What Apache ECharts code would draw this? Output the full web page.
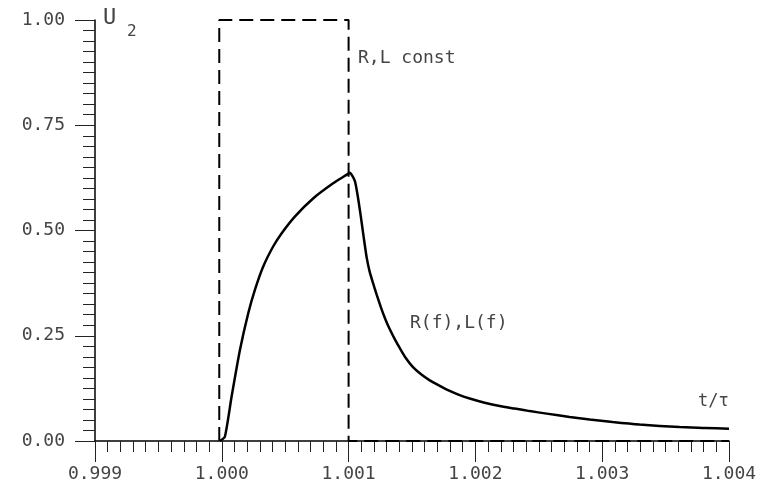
<!DOCTYPE html>
<html>
<head>
<meta charset="utf-8">
<script src="https://cdn.jsdelivr.net/npm/echarts@6/dist/echarts.min.js"></script>
<style>
html,body{margin:0;padding:0;background:#fff;}
#chart{width:774px;height:490px;}
</style>
</head>
<body>
<div id="chart"></div>
<script>
// Tick labels
const xTicks = [0.999, 1.000, 1.001, 1.002, 1.003, 1.004];
const yTicks = [0.00, 0.25, 0.50, 0.75, 1.00];

// Series "R,L const" (rectangular pulse)
const constT = [0.99998, 0.99998, 1.001, 1.001, 1.004];
const constU = [0, 1, 1, 0, 0];

// Series "R(f),L(f)"
const freqT = [0.999985, 1.000024, 1.000077, 1.000143, 1.000208, 1.000261, 1.000326, 1.000405,
  1.000471, 1.000576, 1.000720, 1.000878, 1.000983, 1.001009,
  1.001049, 1.001072, 1.001096, 1.001120, 1.001143, 1.001167, 1.001193, 1.001222, 1.001259,
  1.001293, 1.001324, 1.001364, 1.001403, 1.001451, 1.001506, 1.001569, 1.001640, 1.001719,
  1.001797, 1.001876, 1.001955, 1.002073, 1.002191, 1.002310, 1.002428, 1.002562, 1.002743,
  1.002901, 1.003082, 1.003295, 1.003610, 1.003807, 1.004];
const freqU = [0, 0.010, 0.105, 0.216, 0.303, 0.359, 0.414, 0.462,
  0.493, 0.533, 0.576, 0.612, 0.632, 0.637,
  0.618, 0.582, 0.534, 0.482, 0.435, 0.401, 0.375, 0.347, 0.314,
  0.287, 0.266, 0.242, 0.221, 0.197, 0.176, 0.159, 0.144, 0.131,
  0.119, 0.109, 0.101, 0.091, 0.083, 0.077, 0.071, 0.065, 0.057,
  0.051, 0.045, 0.039, 0.033, 0.031, 0.029];

const FONT = '"DejaVu Sans Mono", monospace';
const TXT = '#444';

const chart = echarts.init(document.getElementById('chart'), null, {renderer: 'canvas'});
chart.setOption({
  animation: false,
  backgroundColor: '#fff',
  grid: {left: 95, right: 45, top: 20, bottom: 49, containLabel: false},
  xAxis: {
    type: 'value',
    min: xTicks[0], max: xTicks[xTicks.length - 1], interval: 0.001,
    axisLine: {show: true, onZero: false, lineStyle: {color: '#000', width: 1.5}},
    axisTick: {show: true, length: 21, lineStyle: {color: '#222', width: 1}},
    minorTick: {show: true, splitNumber: 10, length: 11, lineStyle: {color: '#222', width: 1}},
    splitLine: {show: false},
    minorSplitLine: {show: false},
    axisLabel: {
      margin: 24, color: TXT, fontFamily: FONT, fontSize: 18,
      formatter: v => v.toFixed(3)
    }
  },
  yAxis: {
    type: 'value',
    min: 0, max: 1, interval: 0.25,
    axisLine: {show: true, onZero: false, lineStyle: {color: '#000', width: 1.5}},
    axisTick: {show: true, length: 20, lineStyle: {color: '#222', width: 1}},
    minorTick: {show: true, splitNumber: 10, length: 12, lineStyle: {color: '#222', width: 1}},
    splitLine: {show: false},
    minorSplitLine: {show: false},
    axisLabel: {
      margin: 30, color: TXT, fontFamily: FONT, fontSize: 18,
      formatter: v => v.toFixed(2)
    }
  },
  graphic: [
    {type: 'text', left: 103, top: 7, style: {text: 'U', font: '22px ' + FONT, fill: TXT}},
    {type: 'text', left: 127, top: 24, style: {text: '2', font: '16px ' + FONT, fill: TXT}},
    {type: 'text', left: 358, top: 49, style: {text: 'R,L const', font: '18px ' + FONT, fill: TXT}},
    {type: 'text', left: 410, top: 314, style: {text: 'R(f),L(f)', font: '18px ' + FONT, fill: TXT}},
    {type: 'text', left: 698, top: 393, style: {text: 't/τ', font: '17px ' + FONT, fill: TXT}}
  ],
  series: [
    {
      name: 'R,L const', type: 'line', showSymbol: false, smooth: false,
      data: constT.map((t, i) => [t, constU[i]]),
      lineStyle: {color: '#000', width: 2, type: [14, 7]},
      z: 3
    },
    {
      name: 'R(f),L(f)', type: 'line', showSymbol: false, smooth: 0.2,
      data: freqT.map((t, i) => [t, freqU[i]]),
      lineStyle: {color: '#000', width: 2.5},
      z: 4
    }
  ]
});
</script>
</body>
</html>
